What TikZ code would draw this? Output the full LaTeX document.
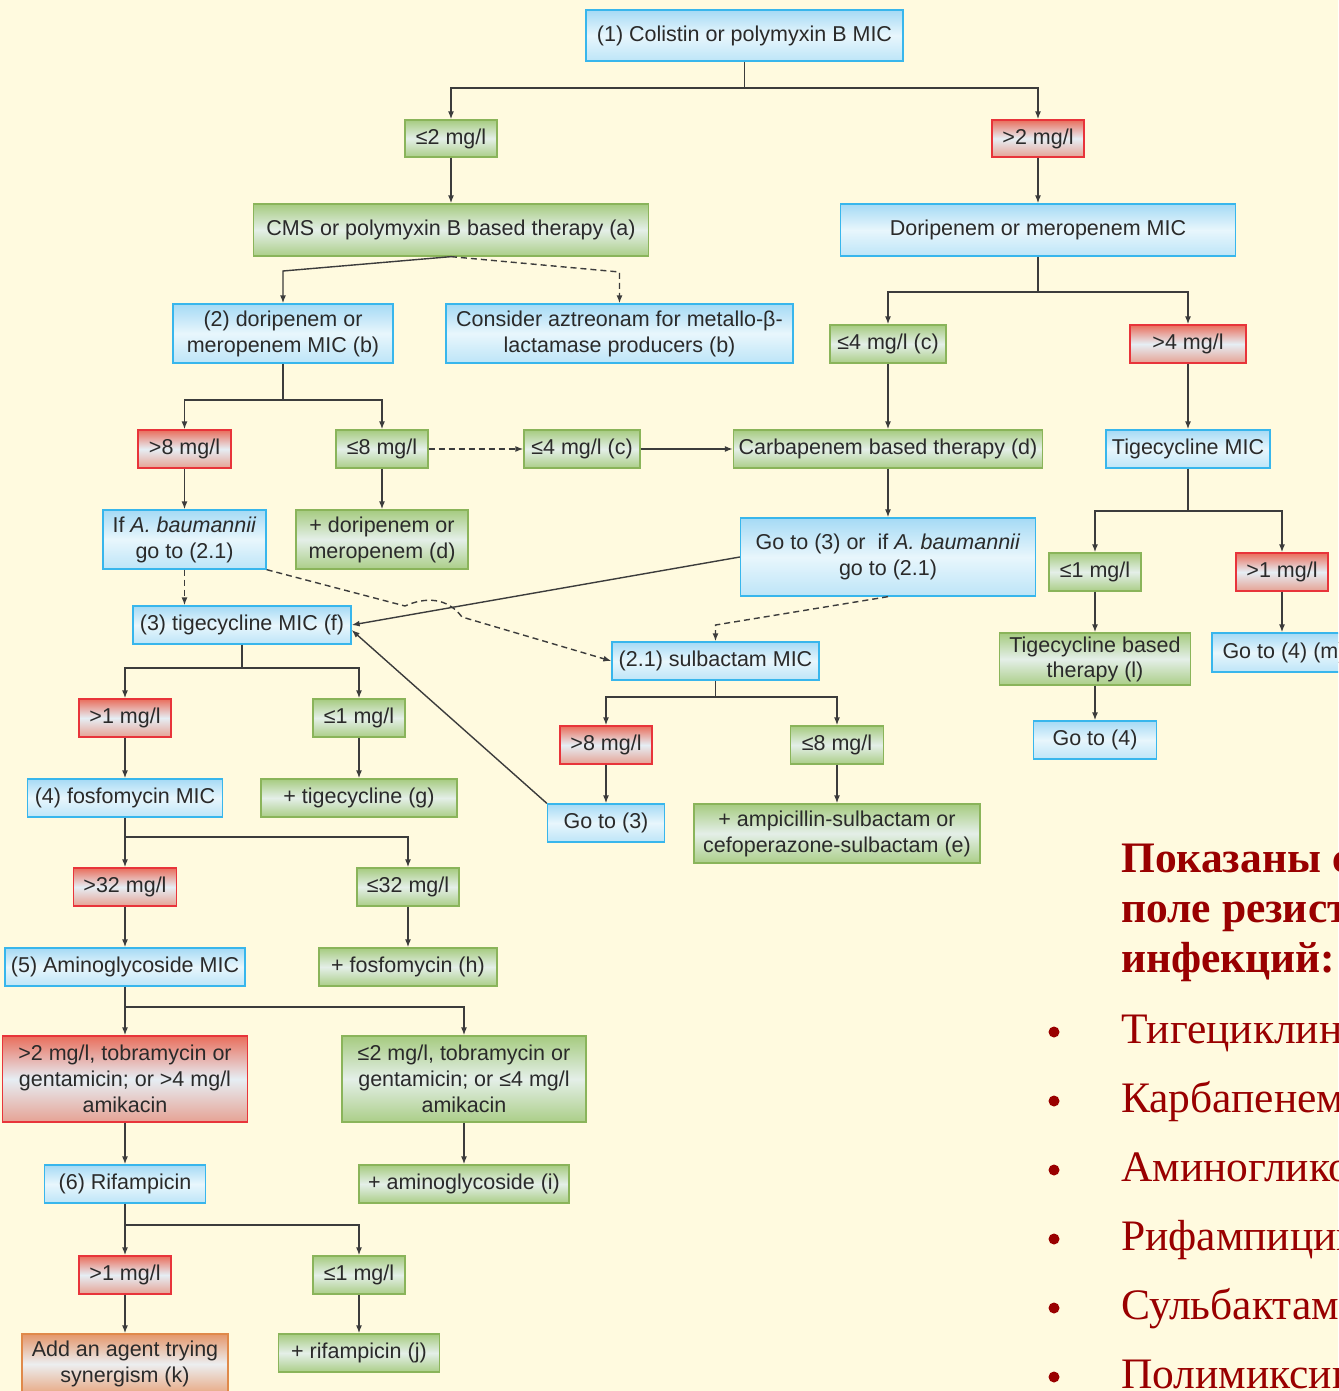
\documentclass[tikz,border=0pt]{standalone}
\usepackage{fontspec}
\setmainfont{Liberation Sans}
\newfontfamily\rusfont{Liberation Serif}
\usetikzlibrary{arrows.meta}
\definecolor{fondo}{HTML}{FFFADF}
\definecolor{linea}{HTML}{3C3C3C}
\definecolor{texto}{HTML}{2A2A2A}
\definecolor{azulborde}{HTML}{38B6EC}
\definecolor{azularriba}{HTML}{A5DAF5}
\definecolor{azulmedio}{HTML}{E8F6FC}
\definecolor{azulabajo}{HTML}{BDE5F8}
\definecolor{verdeborde}{HTML}{8AB45A}
\definecolor{verdearriba}{HTML}{A6CB80}
\definecolor{verdemedio}{HTML}{E4EFE8}
\definecolor{verdeabajo}{HTML}{ABCE88}
\definecolor{rojoborde}{HTML}{E8343A}
\definecolor{rojoarriba}{HTML}{E96E5C}
\definecolor{rojomedio}{HTML}{E6EEF4}
\definecolor{rojoabajo}{HTML}{E6A294}
\definecolor{naranjaborde}{HTML}{E0894A}
\definecolor{naranjaarriba}{HTML}{E4966A}
\definecolor{naranjamedio}{HTML}{ECEEF0}
\definecolor{naranjaabajo}{HTML}{E8A882}
\definecolor{granate}{HTML}{990000}
\tikzstyle{caja} = [rectangle, line width=1.3pt, align=center, inner sep=0pt, text=texto, font=\fontsize{21.5}{26}\selectfont]
\tikzstyle{bluebox} = [caja, draw=azulborde, top color=azularriba, bottom color=azulabajo, middle color=azulmedio]
\tikzstyle{greenbox} = [caja, draw=verdeborde, top color=verdearriba, bottom color=verdeabajo, middle color=verdemedio]
\tikzstyle{redbox} = [caja, draw=rojoborde, top color=rojoarriba, bottom color=rojoabajo, middle color=rojomedio]
\tikzstyle{orangebox} = [caja, draw=naranjaborde, top color=naranjaarriba, bottom color=naranjaabajo, middle color=naranjamedio]
\tikzstyle{rama} = [line width=1.4pt, draw=linea]
\tikzstyle{conector} = [rama, -{Latex[length=8pt,width=6pt]}]
\tikzstyle{punteado} = [dash pattern=on 6pt off 4pt]
\tikzstyle{titulo} = [inner sep=0pt, anchor=base west, text=granate, font=\rusfont\bfseries\fontsize{43.5}{50}\selectfont]
\tikzstyle{lista} = [inner sep=0pt, anchor=base west, text=granate, font=\rusfont\fontsize{43.5}{50}\selectfont]

\begin{document}
\begin{tikzpicture}[x=1pt, y=-1pt]
	\fill[fondo] (0,0) rectangle (1338,1391);
	\useasboundingbox (0,0) rectangle (1338,1391);
	\clip (0,0) rectangle (1338,1391);
	% colistin branch
	\node[bluebox, minimum width=317pt, minimum height=51pt] (n1) at (744.5,35.5) {(1) Colistin or polymyxin B MIC};
	\node[greenbox, minimum width=92pt, minimum height=37pt] (le2) at (451,138.5) {≤2 mg/l};
	\node[redbox, minimum width=92pt, minimum height=37pt] (gt2) at (1038,138.5) {>2 mg/l};
	\node[greenbox, minimum width=395pt, minimum height=52pt] (cms) at (451,230) {CMS or polymyxin B based therapy (a)};
	\node[bluebox, minimum width=395pt, minimum height=52pt] (dori) at (1038,230) {Doripenem or meropenem MIC};
	\node[bluebox, minimum width=220pt, minimum height=59pt] (n2) at (283,333.5) {(2) doripenem or\\meropenem MIC (b)};
	\node[bluebox, minimum width=347pt, minimum height=59pt] (azt) at (619.5,333.5) {Consider aztreonam for metallo-β-\\lactamase producers (b)};
	\node[greenbox, minimum width=116pt, minimum height=38pt] (le4c) at (888,344) {≤4 mg/l (c)};
	\node[redbox, minimum width=116pt, minimum height=38pt] (gt4) at (1188,344) {>4 mg/l};
	\node[redbox, minimum width=93pt, minimum height=38pt] (gt8) at (184.5,449) {>8 mg/l};
	\node[greenbox, minimum width=92pt, minimum height=38pt] (le8) at (382,449) {≤8 mg/l};
	\node[greenbox, minimum width=116pt, minimum height=38pt] (le4d) at (582,449) {≤4 mg/l (c)};
	\node[greenbox, minimum width=309pt, minimum height=38pt] (carb) at (888,449) {Carbapenem based therapy (d)};
	\node[bluebox, minimum width=164pt, minimum height=38pt] (tigmic) at (1188,449) {Tigecycline MIC};
	\node[bluebox, minimum width=163pt, minimum height=59pt] (ifab) at (184.5,539.5) {If \textit{A. baumannii}\\go to (2.1)};
	\node[greenbox, minimum width=172pt, minimum height=59pt] (masdori) at (382,539.5) {+ doripenem or\\meropenem (d)};
	\node[bluebox, minimum width=295pt, minimum height=78pt] (goab) at (888,557) {Go to (3) or\ \ if \textit{A. baumannii}\\go to (2.1)};
	\node[greenbox, minimum width=92pt, minimum height=38pt] (le1r) at (1095,572) {≤1 mg/l};
	\node[redbox, minimum width=92pt, minimum height=38pt] (gt1r) at (1282,572) {>1 mg/l};
	\node[bluebox, minimum width=218pt, minimum height=38pt] (n3) at (242,625) {(3) tigecycline MIC (f)};
	\node[bluebox, minimum width=207pt, minimum height=38pt] (n21) at (715.5,661) {(2.1) sulbactam MIC};
	\node[greenbox, minimum width=191pt, minimum height=52pt, font=\fontsize{21.5}{25}\selectfont] (tigbase) at (1095,659) {Tigecycline based\\therapy (l)};
	\node[bluebox, minimum width=144pt, minimum height=39pt] (go4m) at (1284,652.5) {Go to (4) (m)};
	\node[redbox, minimum width=92pt, minimum height=38pt] (gt1a) at (125,718) {>1 mg/l};
	\node[greenbox, minimum width=92pt, minimum height=38pt] (le1a) at (359,718) {≤1 mg/l};
	\node[redbox, minimum width=92pt, minimum height=38pt] (gt8b) at (606,745) {>8 mg/l};
	\node[greenbox, minimum width=93pt, minimum height=38pt] (le8b) at (837,745) {≤8 mg/l};
	\node[bluebox, minimum width=123pt, minimum height=38pt] (go4) at (1095,740) {Go to (4)};
	\node[bluebox, minimum width=195pt, minimum height=38pt] (n4) at (125,798) {(4) fosfomycin MIC};
	\node[greenbox, minimum width=196pt, minimum height=38pt] (mastig) at (359,798) {+ tigecycline (g)};
	\node[bluebox, minimum width=117pt, minimum height=38pt] (go3) at (606,823) {Go to (3)};
	\node[greenbox, minimum width=286pt, minimum height=59pt] (ampi) at (837,833.5) {+ ampicillin-sulbactam or\\cefoperazone-sulbactam (e)};
	\node[redbox, minimum width=103pt, minimum height=38pt] (gt32) at (125,887) {>32 mg/l};
	\node[greenbox, minimum width=102pt, minimum height=38pt] (le32) at (408,887) {≤32 mg/l};
	\node[bluebox, minimum width=240pt, minimum height=38pt] (n5) at (125,967) {(5) Aminoglycoside MIC};
	\node[greenbox, minimum width=178pt, minimum height=38pt] (masfos) at (408,967) {+ fosfomycin (h)};
	\node[redbox, minimum width=245pt, minimum height=86pt] (gt2t) at (125,1079) {>2 mg/l, tobramycin or\\gentamicin; or >4 mg/l\\amikacin};
	\node[greenbox, minimum width=244pt, minimum height=86pt] (le2t) at (464,1079) {≤2 mg/l, tobramycin or\\gentamicin; or ≤4 mg/l\\amikacin};
	\node[bluebox, minimum width=161pt, minimum height=38pt] (n6) at (125,1184) {(6) Rifampicin};
	\node[greenbox, minimum width=210pt, minimum height=38pt] (masamino) at (464,1184) {+ aminoglycoside (i)};
	\node[redbox, minimum width=92pt, minimum height=38pt] (gt1b) at (125,1275) {>1 mg/l};
	\node[greenbox, minimum width=92pt, minimum height=38pt] (le1b) at (359,1275) {≤1 mg/l};
	\node[orangebox, minimum width=206pt, minimum height=60pt] (agente) at (125,1364) {Add an agent trying\\synergism (k)};
	\node[greenbox, minimum width=161pt, minimum height=38pt] (masrif) at (359,1353) {+ rifampicin (j)};
	% branch points
	\coordinate (r1) at (744.5,88);
	\coordinate (r2) at (1038,292);
	\coordinate (r3) at (283,400);
	\coordinate (r4) at (1188,511);
	\coordinate (r5) at (242,668);
	\coordinate (r6) at (715.5,697);
	\coordinate (r7) at (125,837);
	\coordinate (r8) at (125,1007);
	\coordinate (r9) at (125,1225);
	\coordinate (c1) at (283,271);
	\coordinate (c2) at (619.5,272);
	\coordinate (c3) at (715.5,625);
	% connectors
	\draw[rama] (n1) -- (r1);
	\draw[conector] (r1) -| (le2);
	\draw[conector] (r1) -| (gt2);
	\draw[conector] (le2) -- (cms);
	\draw[conector] (gt2) -- (dori);
	\draw[conector] (cms.south) -- (c1) -- (n2);
	\draw[conector, punteado] (cms.south) -- (c2) -- (azt);
	\draw[rama] (dori) -- (r2);
	\draw[conector] (r2) -| (le4c);
	\draw[conector] (r2) -| (gt4);
	\draw[conector] (le4c) -- (carb);
	\draw[conector] (gt4) -- (tigmic);
	\draw[rama] (n2) -- (r3);
	\draw[conector] (r3) -| (gt8);
	\draw[conector] (r3) -| (le8);
	\draw[conector, punteado] (le8) -- (le4d);
	\draw[conector] (le4d) -- (carb);
	\draw[conector] (gt8) -- (ifab);
	\draw[conector] (le8) -- (masdori);
	\draw[conector] (carb) -- (goab);
	\draw[rama] (tigmic) -- (r4);
	\draw[conector] (r4) -| (le1r);
	\draw[conector] (r4) -| (gt1r);
	\draw[conector] (le1r) -- (tigbase);
	\draw[conector] (tigbase) -- (go4);
	\draw[conector] (gt1r.south) -- (gt1r.south |- go4m.north);
	\draw[conector, punteado] (ifab.south) -- (ifab.south |- n3.north);
	\draw[conector, punteado] (ifab.south east) -- (405,606) .. controls (425,597) and (447,597) .. (462,617) -- (n21.west);
	\draw[conector] (goab.west) -- (n3.east);
	\draw[conector, punteado] (goab.south) -- (c3) -- (n21);
	\draw[rama] (n3) -- (r5);
	\draw[conector] (r5) -| (gt1a);
	\draw[conector] (r5) -| (le1a);
	\draw[rama] (n21) -- (r6);
	\draw[conector] (r6) -| (gt8b);
	\draw[conector] (r6) -| (le8b);
	\draw[conector] (gt8b) -- (go3);
	\draw[conector] (le8b) -- (ampi);
	\draw[conector] (go3.north west) -- ([yshift=-5pt]n3.east);
	\draw[conector] (gt1a) -- (n4);
	\draw[conector] (le1a) -- (mastig);
	\draw[rama] (n4) -- (r7);
	\draw[conector] (r7) -| (gt32);
	\draw[conector] (r7) -| (le32);
	\draw[conector] (gt32) -- (n5);
	\draw[conector] (le32) -- (masfos);
	\draw[rama] (n5) -- (r8);
	\draw[conector] (r8) -| (gt2t);
	\draw[conector] (r8) -| (le2t);
	\draw[conector] (gt2t) -- (n6);
	\draw[conector] (le2t) -- (masamino);
	\draw[rama] (n6) -- (r9);
	\draw[conector] (r9) -| (gt1b);
	\draw[conector] (r9) -| (le1b);
	\draw[conector] (gt1b) -- (agente);
	\draw[conector] (le1b) -- (masrif);
	% russian notes
	\node[titulo] (t1) at (1121,872) {Показаны средства};
	\node[titulo] (t2) at (1121,922) {поле резистентных};
	\node[titulo] (t3) at (1121,972) {инфекций:};
	\foreach \farmaco [count=\i] in {Тигециклин, Карбапенемы, Аминогликозиды, Рифампицин, Сульбактам, Полимиксины}{
		\node[lista] (f\i) at (1121,974+69*\i) {\farmaco};
		\fill[granate] (1054,963+69*\i) circle (5.5);
	}
\end{tikzpicture}
\end{document}
